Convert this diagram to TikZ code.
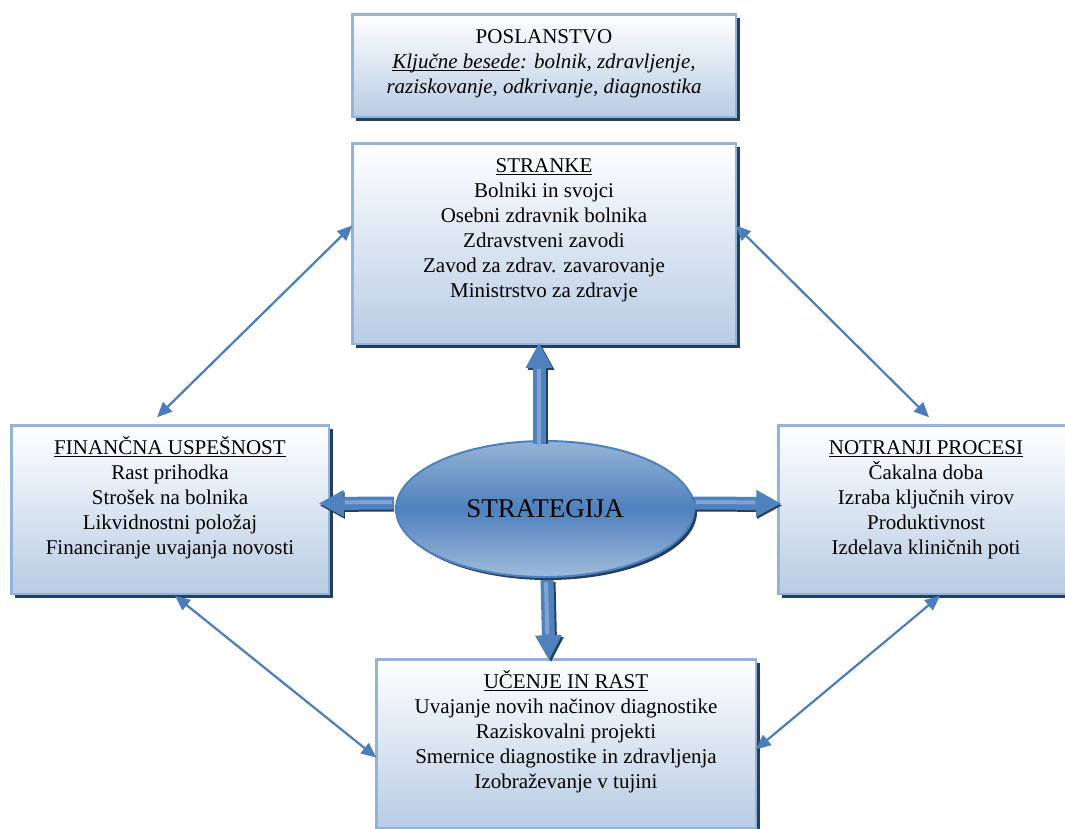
\documentclass[tikz,border=0pt]{standalone}
\usepackage{fontspec}
\setmainfont{Liberation Serif}
\usetikzlibrary{arrows.meta,shapes.geometric,shadows}
\definecolor{boxborder}{HTML}{95B3D7}
\definecolor{boxbottom}{HTML}{B8CCE4}
\definecolor{shadowc}{HTML}{243F60}
\definecolor{midblue}{HTML}{4F81BD}
\definecolor{lightblue}{HTML}{95B3D7}
\definecolor{hiblue}{HTML}{7EA3D3}
\definecolor{thinblue}{HTML}{4A7EBB}
\newsavebox\myulbox
\newcommand{\myul}[1]{\sbox\myulbox{#1}\rlap{\rule[-2.5pt]{\wd\myulbox}{0.9pt}}\usebox\myulbox}
\begin{document}
\begin{tikzpicture}[x=1pt,y=-1pt,
  box/.style={draw=boxborder, line width=2.5pt, top color=white, bottom color=boxbottom,
    inner sep=0pt, outer sep=0pt,
    drop shadow={shadow xshift=4pt, shadow yshift=-4pt, fill=shadowc, opacity=1}},
  txt/.style={align=center, inner sep=0pt, anchor=north, font=\fontsize{21}{25}\selectfont},
  blockarrow/.style={line width=13pt, draw=midblue, -{Triangle[length=25pt,width=25pt]}},
  blockshadow/.style={line width=13pt, draw=shadowc, -{Triangle[length=25pt,width=25pt]}},
  blockhi/.style={line width=4pt, draw=hiblue},
  thinarrow/.style={line width=2.2pt, draw=thinblue,
    {Triangle[length=15pt,width=13pt]}-{Triangle[length=15pt,width=13pt]}}
]
\useasboundingbox (0,0) rectangle (1065,828);
\clip (0,0) rectangle (1065,828);

% boxes
\node[box, minimum width=383.5pt, minimum height=102.5pt] (pos) at (544,65.5) {};
\node[box, minimum width=383.5pt, minimum height=200.5pt] (str) at (544,243.5) {};
\node[box, minimum width=317.5pt, minimum height=168.5pt] (fin) at (170,509.5) {};
\node[box, minimum width=295.5pt, minimum height=168.5pt] (notr) at (926,509.5) {};
\node[box, minimum width=379.5pt, minimum height=168.5pt] (uc) at (566,743.5) {};

% texts
\node[txt] (posT) at ([yshift=-11pt]pos.north) {\vphantom{Č}POSLANSTVO\\
  \itshape\myul{Ključne besede}: bolnik, zdravljenje,\\
  \itshape raziskovanje, odkrivanje, diagnostika};
\node[txt] (strT) at ([yshift=-11pt]str.north) {\vphantom{Č}\myul{STRANKE}\\
  Bolniki in svojci\\ Osebni zdravnik bolnika\\ Zdravstveni zavodi\\
  Zavod za zdrav. zavarovanje\\ Ministrstvo za zdravje};
\node[txt] (finT) at ([yshift=-11pt]fin.north) {\myul{FINANČNA USPEŠNOST}\\
  Rast prihodka\\ Strošek na bolnika\\ Likvidnostni položaj\\ Financiranje uvajanja novosti};
\node[txt] (notrT) at ([yshift=-11pt]notr.north) {\vphantom{Č}\myul{NOTRANJI PROCESI}\\
  Čakalna doba\\ Izraba ključnih virov\\ Produktivnost\\ Izdelava kliničnih poti};
\node[txt] (ucT) at ([yshift=-11pt]uc.north) {\myul{UČENJE IN RAST}\\
  Uvajanje novih načinov diagnostike\\ Raziskovalni projekti\\
  Smernice diagnostike in zdravljenja\\ Izobraževanje v tujini};

% ellipse
\node[ellipse, draw=midblue, line width=2pt, minimum width=298pt, minimum height=136pt,
  top color=lightblue, bottom color=lightblue!90!white, middle color=midblue,
  drop shadow={shadow xshift=3pt, shadow yshift=-3pt, fill=shadowc, opacity=1},
  font=\fontsize{27}{30}\selectfont, inner sep=0pt] (ell) at (545,509) {STRATEGIJA};

% block arrows (shadows)
\draw[blockshadow] ([shift={(-4pt,-4pt)}]ell.north) -- ([shift={(-3pt,-1pt)}]str.south);
\draw[blockshadow] ([shift={(-1pt,4pt)}]ell.west) -- ([shift={(-9pt,4pt)}]fin.east);
\draw[blockshadow] ([shift={(1pt,4pt)}]ell.east) -- ([shift={(4pt,4pt)}]notr.west);
\draw[blockshadow] ([shift={(4pt,-4pt)}]ell.south) -- ([shift={(-15pt,-3pt)}]uc.north);
% block arrows
\draw[blockarrow] ([shift={(-6pt,-4pt)}]ell.north) -- ([shift={(-5pt,1pt)}]str.south);
\draw[blockarrow] ([shift={(-1pt,6pt)}]ell.west) -- ([shift={(-10pt,6pt)}]fin.east);
\draw[blockarrow] ([shift={(-1pt,6pt)}]ell.east) -- ([shift={(3pt,6pt)}]notr.west);
\draw[blockarrow] ([shift={(2pt,-2pt)}]ell.south) -- ([shift={(-17pt,-1pt)}]uc.north);
% highlights
\draw[blockhi, shorten >=26pt] ([shift={(-6pt,-6pt)}]ell.north) -- ([shift={(-5pt,1pt)}]str.south);
\draw[blockhi, shorten >=26pt] ([shift={(-3pt,7pt)}]ell.west) -- ([shift={(-10pt,7pt)}]fin.east);
\draw[blockhi, shorten >=26pt] ([shift={(1pt,7pt)}]ell.east) -- ([shift={(3pt,7pt)}]notr.west);
\draw[blockhi, shorten >=26pt] ([shift={(1pt,-4pt)}]ell.south) -- ([shift={(-18pt,-1pt)}]uc.north);

% thin double arrows
\draw[thinarrow] ([yshift=18pt]str.west) -- ([shift={(-13pt,8pt)}]fin.north);
\draw[thinarrow] ([yshift=18pt]str.east) -- ([shift={(3pt,8pt)}]notr.north);
\draw[thinarrow] ([shift={(5pt,-2pt)}]fin.south) -- ([yshift=-14pt]uc.west);
\draw[thinarrow] ([shift={(14pt,-2pt)}]notr.south) -- ([yshift=-6pt]uc.east);
\end{tikzpicture}
\end{document}
